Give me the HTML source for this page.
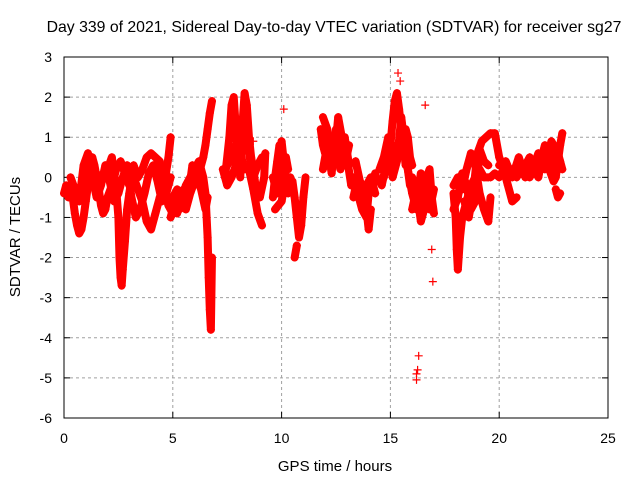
<!DOCTYPE html>
<html><head><meta charset="utf-8"><style>
html,body{margin:0;padding:0;background:#fff;}
svg{display:block;font-family:"Liberation Sans",sans-serif;}
</style></head><body>
<svg id="chart" width="640" height="480" viewBox="0 0 640 480">
<text x="334" y="32" font-size="15.8" text-anchor="middle">Day 339 of 2021, Sidereal Day-to-day VTEC variation (SDTVAR) for receiver sg27</text>
<g id="grid"></g>
<g id="axes"></g>
<g id="marks"></g>
<text x="335" y="471" font-size="15" text-anchor="middle">GPS time / hours</text>
<text transform="translate(20,237) rotate(-90)" font-size="15" text-anchor="middle">SDTVAR / TECUs</text>
</svg>
<script>
const xTicks=[0,5,10,15,20,25];
const yTicks=[-6,-5,-4,-3,-2,-1,0,1,2,3];
const traceA=[[0,-0.4],[0.1,-0.2],[0.2,-0.5],[0.35,-0.3],[0.5,-0.9],[0.6,-1.2],[0.7,-1.4],[0.8,-1.3],[0.9,-1.0],[1.0,-0.6],[1.1,-0.2],[1.2,0.2],[1.3,0.5],[1.4,0.3],[1.5,0.0],[1.6,-0.3],[1.7,-0.7],[1.8,-0.9],[1.9,-0.8],[2.0,-0.5],[2.2,-0.2],[2.4,0.2],[2.6,0.4],[2.8,0.1],[3.0,-0.2],[3.2,0.0],[3.4,-0.3],[3.6,-0.6],[3.8,-1.1],[4.0,-1.3],[4.2,-0.9],[4.4,-0.5],[4.6,-0.2],[4.8,0.5],[4.9,1.0]];
const traceB=[[0.9,-0.3],[1.0,0.1],[1.1,0.5],[1.2,0.3],[1.4,0.0],[1.6,-0.2],[1.8,0.1],[2.0,0.2],[2.2,0.5],[2.4,-0.3],[2.5,-1.0],[2.55,-2.0],[2.6,-2.5],[2.65,-2.7],[2.7,-2.3],[2.8,-1.6],[2.9,-0.8],[3.0,-0.4],[3.2,0.3],[3.4,0.0],[3.6,0.2],[3.8,0.5],[4.0,0.6],[4.2,0.5],[4.4,0.4],[4.6,-0.3],[4.8,-0.7],[5.0,-0.9]];
const traceN=[[0.3,0.0],[0.5,-0.3],[0.7,-0.6],[0.9,0.3],[1.1,0.6],[1.3,0.0],[1.5,-0.5],[1.7,-0.2],[1.9,0.3],[2.1,-0.1],[2.3,-0.6],[2.5,-0.4],[2.7,0.0],[2.9,0.3],[3.1,-0.5],[3.3,-1.0],[3.5,-0.8],[3.7,-0.4],[3.9,0.1],[4.1,0.3],[4.3,-0.1],[4.5,-0.6],[4.7,-0.4],[4.9,0.0]];
const traceC=[[5.0,-0.5],[5.2,-0.3],[5.4,-0.6],[5.6,-0.2],[5.8,0.0],[6.0,0.2],[6.2,0.4],[6.4,0.0],[6.5,-0.4],[6.6,-1.5],[6.65,-2.5],[6.7,-3.3],[6.75,-3.8],[6.8,-2.0]];
const traceD=[[5.2,-0.9],[5.4,-0.4],[5.6,-0.8],[5.8,-0.4],[6.0,-0.1],[6.2,0.1],[6.4,0.5],[6.5,0.8],[6.6,1.2],[6.7,1.6],[6.8,1.9]];
const traceO=[[4.9,-1.0],[5.1,-0.6],[5.3,-0.8],[5.5,-0.3],[5.7,-0.5],[5.9,0.3],[6.1,0.0],[6.3,-0.3],[6.5,-0.8],[6.6,-0.5]];
const traceE=[[7.4,0.0],[7.6,1.0],[7.7,1.8],[7.8,2.0],[7.9,1.2],[8.0,0.5],[8.1,0.0],[8.2,1.3],[8.3,2.1],[8.4,1.8],[8.5,1.0],[8.6,0.5],[8.7,0.2],[8.8,-0.2],[9.0,-0.5],[9.2,0.0],[9.25,0.6]];
const traceE2=[[7.5,0.3],[7.7,0.5],[7.9,0.8],[8.1,0.6],[8.3,0.2],[8.5,0.2],[8.7,-0.3],[8.9,-0.9],[9.1,-1.2]];
const traceP=[[7.3,0.2],[7.5,-0.2],[7.7,0.0],[7.9,0.3],[8.1,1.0],[8.3,1.5],[8.5,0.6],[8.7,0.0],[8.9,0.3],[9.1,0.5]];
const traceF=[[9.6,-0.5],[9.7,0.0],[9.8,0.4],[9.9,0.8],[10.0,0.3],[10.1,0.0],[10.2,0.5],[10.3,0.2]];
const traceF2=[[9.7,-0.8],[10.0,-0.6],[10.2,0.0]];
const traceQ=[[9.6,0.0],[9.8,-0.4],[10.0,0.9],[10.1,0.4],[10.3,-0.4],[10.4,0.0]];
const traceG=[[10.5,-0.1],[10.6,-0.5],[10.7,-1.0],[10.8,-1.5],[10.9,-1.2],[11.0,-0.5],[11.1,0.0]];
const traceG2=[[10.6,-2.0],[10.7,-1.7]];
const traceH=[[11.8,1.2],[11.9,0.8],[12.0,0.6],[12.2,1.0],[12.4,0.3],[12.6,1.5],[12.8,0.9],[13.0,0.5],[13.2,-0.2]];
const traceH2=[[11.9,0.2],[12.1,0.8],[12.3,0.1],[12.5,1.2],[12.7,0.2],[12.9,1.0],[13.1,0.3]];
const traceR=[[11.9,1.5],[12.1,1.2],[12.3,0.6],[12.5,0.5],[12.7,1.0],[12.9,0.3],[13.1,0.8]];
const traceI=[[13.3,0.0],[13.4,-0.2],[13.5,-0.4],[13.7,-0.8],[13.9,-1.0],[14.0,-0.4],[14.2,-0.2],[14.3,0.1],[14.4,-0.1]];
const traceI2=[[13.4,0.4],[13.6,-0.1],[13.8,-0.3],[14.0,-1.3],[14.1,-0.8]];
const traceS=[[13.3,-0.5],[13.5,0.0],[13.7,-0.5],[13.9,-0.2],[14.1,0.0],[14.3,-0.4]];
const traceJ=[[14.6,-0.2],[14.8,0.3],[15.0,0.8],[15.1,1.4],[15.2,1.9],[15.3,2.1],[15.4,1.7],[15.5,1.2],[15.6,0.8],[15.7,0.3]];
const traceJ2=[[14.7,0.0],[14.9,0.5],[15.1,0.3],[15.3,0.8],[15.5,0.6],[15.7,1.2],[15.8,1.0],[15.9,0.5],[16.0,0.3]];
const traceT=[[14.5,0.2],[14.7,0.5],[14.9,1.0],[15.1,0.0],[15.3,0.4],[15.5,1.5],[15.7,0.6],[15.9,-0.2]];
const traceK=[[15.8,0.2],[16.0,-0.4],[16.2,-0.8],[16.4,-0.5],[16.6,-0.1],[16.8,0.2],[16.9,-0.5],[17.0,-0.9]];
const traceK2=[[16.0,-0.8],[16.2,-0.3],[16.4,-1.1],[16.6,-0.7],[16.8,-0.3]];
const traceU=[[16.0,0.0],[16.2,-0.6],[16.4,0.1],[16.6,-0.4],[16.8,-0.8],[17.0,-0.3]];
const outliers=[[16.2,-4.9],[16.25,-4.8],[16.3,-4.45],[16.2,-5.05],[15.35,2.6],[15.45,2.4],[16.6,1.8],[16.9,-1.8],[16.95,-2.6],[10.1,1.7],[8.7,0.9]];
const traceL=[[17.9,-0.4],[18.0,-1.0],[18.05,-1.8],[18.1,-2.3],[18.2,-1.5],[18.3,-1.0],[18.5,-0.6],[18.7,-0.2],[18.9,0.0],[19.1,0.2],[19.3,0.0],[19.5,0.0]];
const traceL2=[[17.9,-0.2],[18.1,0.0],[18.3,-0.3],[18.5,0.2],[18.7,0.6],[18.9,0.3],[19.1,-0.4],[19.3,-0.8],[19.5,-1.1],[19.6,-0.5]];
const traceL3=[[18.4,-0.6],[18.6,-1.0],[18.8,-0.4],[19.0,0.6],[19.2,0.9],[19.4,1.0],[19.6,1.1],[19.8,1.1],[20.0,0.5],[20.2,0.2],[20.4,-0.2],[20.6,-0.6],[20.8,-0.5]];
const traceV=[[17.9,-0.8],[18.1,-0.5],[18.3,0.1],[18.5,-0.2],[18.7,-0.8],[18.9,-0.6],[19.1,0.7],[19.3,0.4],[19.5,0.3]];
const traceM=[[19.6,0.0],[19.8,0.1],[20.0,0.0],[20.2,0.2],[20.4,0.1],[20.6,0.2],[20.8,0.0],[21.0,0.2],[21.2,0.3],[21.4,0.5],[21.6,0.3],[21.8,0.6],[22.0,0.4],[22.2,0.7],[22.4,0.5],[22.6,0.3],[22.8,0.4]];
const traceM2=[[20.8,0.3],[21.0,0.1],[21.4,0.0],[21.6,0.2],[21.8,0.0],[22.0,0.6],[22.1,0.8],[22.3,0.2],[22.5,-0.1],[22.6,0.0],[22.8,0.8],[22.9,1.1]];
const traceM3=[[22.6,-0.3],[22.7,-0.5],[22.8,-0.4]];
const traceW=[[20.0,0.3],[20.3,0.4],[20.6,0.0],[20.9,0.5],[21.2,0.0],[21.5,0.3],[21.8,0.4],[22.1,0.2],[22.4,0.9],[22.7,0.6],[22.9,0.2]];
const traces=[traceA,traceB,traceN,traceC,traceD,traceO,traceE,traceE2,traceP,traceF,traceF2,traceQ,traceG,traceG2,traceH,traceH2,traceR,traceI,traceI2,traceS,traceJ,traceJ2,traceT,traceK,traceK2,traceU,traceL,traceL2,traceL3,traceV,traceM,traceM2,traceM3,traceW];

const L=64,R=608,T=57,B=418;
const xS=v=>L+(v-0)/25*(R-L);
const yS=v=>B-(v+6)/9*(B-T);
const NS='http://www.w3.org/2000/svg';
function mk(tag,attrs,parent){const e=document.createElementNS(NS,tag);for(const k in attrs)e.setAttribute(k,attrs[k]);parent.appendChild(e);return e;}
const grid=document.getElementById('grid'),axes=document.getElementById('axes'),marks=document.getElementById('marks');
xTicks.forEach(t=>{const x=xS(t);
 if(t>0&&t<25){const g=mk('line',{x1:x,x2:x,y1:T,y2:B,stroke:'#a0a0a0','stroke-dasharray':'3,3'},grid);}
 mk('line',{x1:x,x2:x,y1:B,y2:B-6,stroke:'#000'},axes);mk('line',{x1:x,x2:x,y1:T,y2:T+6,stroke:'#000'},axes);
 const lb=mk('text',{x:x,y:443,'font-size':14,'text-anchor':'middle'},axes);lb.textContent=t;
 });
yTicks.forEach(t=>{const y=yS(t);
 if(t>-6&&t<3){const g=mk('line',{x1:L,x2:R,y1:y,y2:y,stroke:'#a0a0a0','stroke-dasharray':'3,3'},grid);}
 mk('line',{x1:L,x2:L+6,y1:y,y2:y,stroke:'#000'},axes);mk('line',{x1:R,x2:R-6,y1:y,y2:y,stroke:'#000'},axes);
 const lb=mk('text',{x:52,y:y+5,'font-size':14,'text-anchor':'end'},axes);lb.textContent=t;
 });
const fr=mk('rect',{x:L,y:T,width:R-L,height:B-T,fill:'none',stroke:'#000'},axes);

traces.forEach(tr=>{
 const pl=mk('polyline',{points:tr.map(p=>xS(p[0])+','+yS(p[1])).join(' '),fill:'none',stroke:'#f00','stroke-width':8,'stroke-linejoin':'round','stroke-linecap':'round'},marks);
 
});
traces.concat([outliers]).forEach(tr=>tr.forEach(p=>{
 const x=xS(p[0]),y=yS(p[1]);
 const m=mk('path',{d:`M${x-4},${y}H${x+4}M${x},${y-4}V${y+4}`,stroke:'#f00','stroke-width':1.2},marks);
 
}));
</script>
</body></html>
